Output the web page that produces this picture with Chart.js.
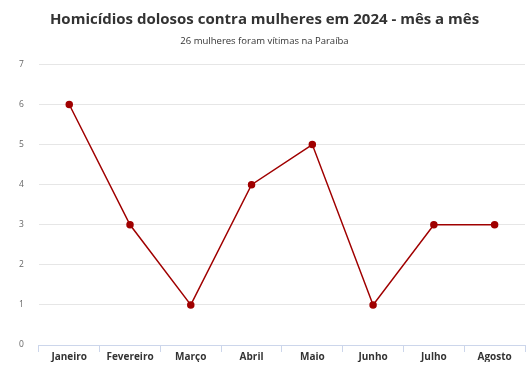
<!DOCTYPE html>
<html>
<head>
<meta charset="utf-8">
<script src="https://cdn.jsdelivr.net/npm/chart.js@4"></script>
<style>
  html, body { margin: 0; padding: 0; background: #fff; overflow: hidden; }
  canvas { display: block; }
</style>
</head>
<body>
<canvas id="chartHomicidios" width="531" height="373"></canvas>
<script>
var meses = ['Janeiro', 'Fevereiro', 'Março', 'Abril', 'Maio', 'Junho', 'Julho', 'Agosto'];
var vitimas = [6, 3, 1, 4, 5, 1, 3, 3];
var yMin = 0;
var yMax = 7;

Chart.defaults.font.family = '"Open Sans", sans-serif';

var ctx = document.getElementById('chartHomicidios').getContext('2d');
var chartHomicidios = new Chart(ctx, {
    type: 'line',
    data: {
        labels: meses,
        datasets: [{
            label: 'Homicídios',
            data: vitimas,
            borderColor: '#a00000',
            backgroundColor: '#a00000',
            borderWidth: 1.5,
            pointRadius: 3,
            pointHoverRadius: 4,
            tension: 0
        }]
    },
    options: {
        responsive: false,
        animation: false,
        scales: {
            x: {
                offset: true,
                grid: {
                    offset: true,
                    drawOnChartArea: false,
                    drawTicks: true,
                    tickLength: 7,
                    color: '#ccd6eb'
                },
                border: {
                    color: '#ccd6eb'
                },
                ticks: {
                    color: '#333333',
                    padding: -1,
                    font: { size: 10, weight: 'bold' }
                }
            },
            y: {
                min: yMin,
                max: yMax,
                grid: {
                    color: '#e6e6e6',
                    drawTicks: false
                },
                border: {
                    display: false
                },
                ticks: {
                    stepSize: 1,
                    color: '#666666',
                    padding: 15,
                    font: { size: 8.5 }
                }
            }
        },
        plugins: {
            legend: { display: false },
            title: {
                display: true,
                text: 'Homicídios dolosos contra mulheres em 2024 - mês a mês',
                color: '#333333',
                font: { size: 15, weight: 'bold' },
                padding: { top: 11, bottom: 7 }
            },
            subtitle: {
                display: true,
                text: '26 mulheres foram vítimas na Paraíba',
                color: '#333333',
                font: { size: 9.5 },
                padding: { bottom: 17 }
            },
            tooltip: {
                displayColors: false
            }
        },
        layout: {
            padding: {
                left: 4,
                right: 6,
                top: 0,
                bottom: 11
            }
        }
    }
});
</script>
</body>
</html>
